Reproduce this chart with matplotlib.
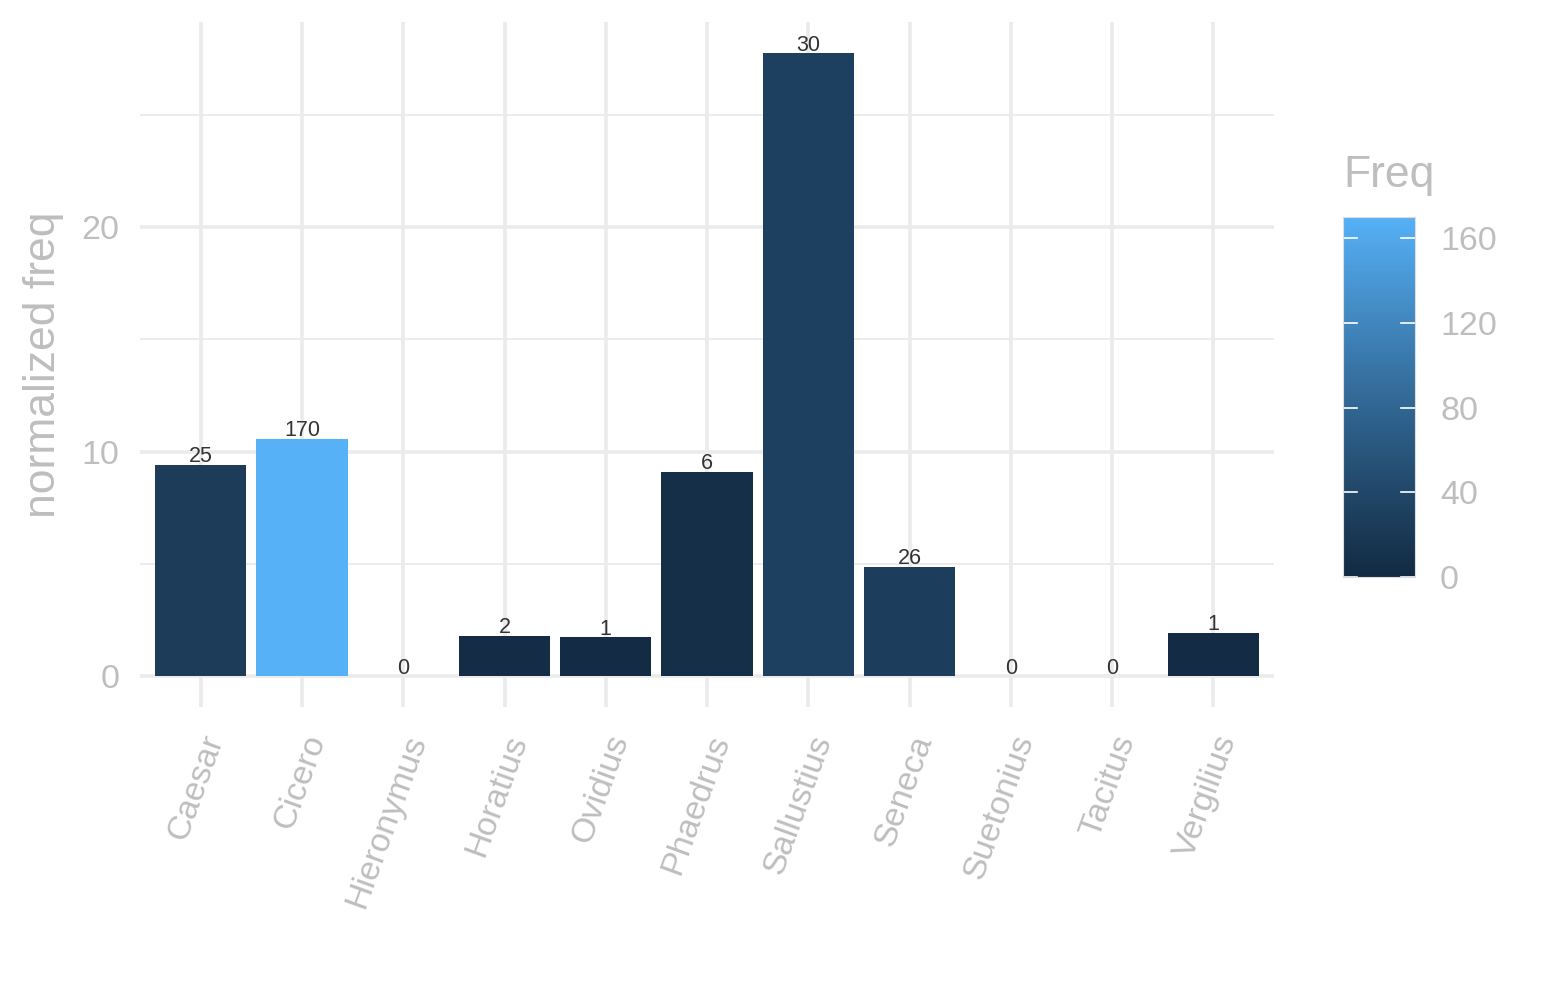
import numpy as np
import matplotlib
matplotlib.use("Agg")
import matplotlib.pyplot as plt
from matplotlib.colors import ListedColormap, Normalize

authors = ["Caesar", "Cicero", "Hieronymus", "Horatius", "Ovidius", "Phaedrus",
           "Sallustius", "Seneca", "Suetonius", "Tacitus", "Vergilius"]
norm_freq = [9.42, 10.58, 0, 1.79, 1.74, 9.11, 27.77, 4.87, 0, 0, 1.92]
freq = [25, 170, 0, 2, 1, 6, 30, 26, 0, 0, 1]
cbar_ticks = [0, 40, 80, 120, 160]


# ggplot-style gradient (#132B43 -> #56B1F7), interpolated in Lab space
def hex2rgb(h):
    return np.array([int(h[i:i + 2], 16) / 255 for i in (1, 3, 5)])


def rgb2lab(c):
    c = np.where(c > 0.04045, ((c + 0.055) / 1.055) ** 2.4, c / 12.92)
    m = np.array([[0.4124, 0.3576, 0.1805], [0.2126, 0.7152, 0.0722], [0.0193, 0.1192, 0.9505]])
    xyz = m @ c / np.array([0.95047, 1.0, 1.08883])
    f = np.where(xyz > 0.008856, np.cbrt(xyz), 7.787 * xyz + 16 / 116)
    return np.array([116 * f[1] - 16, 500 * (f[0] - f[1]), 200 * (f[1] - f[2])])


def lab2rgb(lab):
    fy = (lab[0] + 16) / 116
    f = np.array([fy + lab[1] / 500, fy, fy - lab[2] / 200])
    xyz = np.where(f ** 3 > 0.008856, f ** 3, (f - 16 / 116) / 7.787) * np.array([0.95047, 1.0, 1.08883])
    m = np.array([[3.2406, -1.5372, -0.4986], [-0.9689, 1.8758, 0.0415], [0.0557, -0.2040, 1.0570]])
    c = m @ xyz
    c = np.where(c > 0.0031308, 1.055 * np.clip(c, 0, None) ** (1 / 2.4) - 0.055, 12.92 * c)
    return np.clip(c, 0, 1)


lo, hi = rgb2lab(hex2rgb("#132B43")), rgb2lab(hex2rgb("#56B1F7"))
cmap = ListedColormap([lab2rgb(lo + t * (hi - lo)) for t in np.linspace(0, 1, 256)])
cnorm = Normalize(vmin=min(freq), vmax=max(freq))

plt.rcParams["font.family"] = ["Liberation Sans", "DejaVu Sans"]
grey = "#BEBEBE"
grid = "#EBEBEB"

fig = plt.figure(figsize=(15.45, 10), dpi=100)
ax = fig.add_axes([140 / 1545, 1 - 707 / 1000, (1274 - 140) / 1545, (707 - 22) / 1000])

x = np.arange(len(authors))
ax.bar(x, norm_freq, width=0.9, color=cmap(cnorm(freq)), zorder=2)
for xi, v, f in zip(x, norm_freq, freq):
    ax.text(xi, v - 0.12, str(f), ha="center", va="bottom", fontsize=15.5, color="#333333", zorder=3)

ax.set_xlim(-0.6, len(authors) - 0.4)
ymax = max(norm_freq)
ax.set_ylim(-0.05 * ymax, ymax * 1.05)

ax.set_yticks([0, 10, 20])
ax.set_yticks([5, 15, 25], minor=True)
ax.set_xticks(x)
ax.set_xticklabels(authors, rotation=70, ha="right", va="top", rotation_mode="anchor")
ax.grid(True, which="major", color=grid, lw=2.6, zorder=0)
ax.grid(True, which="minor", axis="y", color=grid, lw=1.3, zorder=0)
ax.tick_params(which="both", length=0, labelcolor=grey, labelsize=24.5)
ax.tick_params(axis="x", pad=17)
ax.tick_params(axis="y", pad=15)
for s in ax.spines.values():
    s.set_visible(False)
ax.set_ylabel("normalized freq", color=grey, fontsize=32, labelpad=12)

# colour bar legend
cax = fig.add_axes([1343 / 1545, 1 - 577 / 1000, 72 / 1545, 360 / 1000])
grad = np.linspace(min(freq), max(freq), 300).reshape(-1, 1)
cax.imshow(grad, aspect="auto", cmap=cmap, norm=cnorm, origin="lower",
           extent=[0, 1, min(freq), max(freq)])
cax.set_xlim(0, 1)
cax.set_ylim(min(freq), max(freq))
for t in cbar_ticks:
    cax.plot([0, 0.2], [t, t], color="white", lw=1.2)
    cax.plot([0.8, 1], [t, t], color="white", lw=1.2)
cax.set_xticks([])
cax.yaxis.tick_right()
cax.set_yticks(cbar_ticks)
cax.tick_params(length=0, labelcolor=grey, labelsize=24.5, pad=18)
for s in cax.spines.values():
    s.set_color("#DDDDDD")
    s.set_linewidth(0.8)
fig.text(1343 / 1545, 1 - 176 / 1000, "Freq", color=grey, fontsize=32, va="center", ha="left")

fig.savefig("out.png", dpi=100)
